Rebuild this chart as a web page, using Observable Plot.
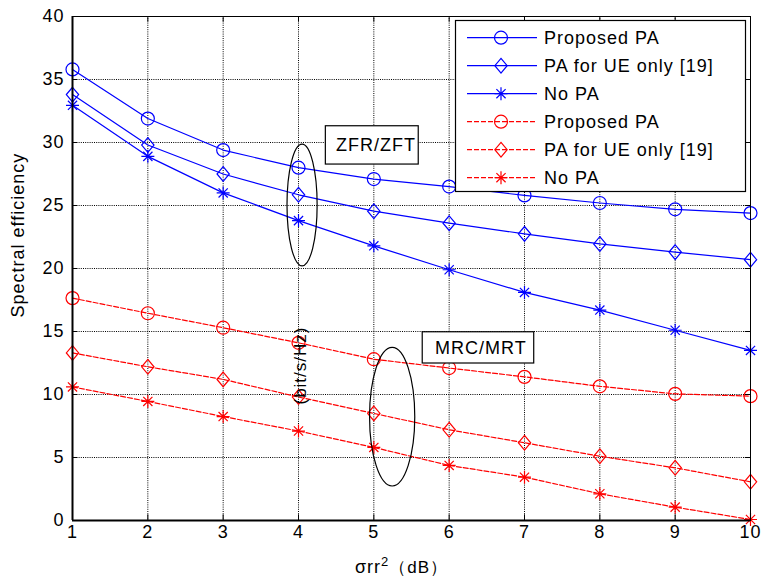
<!DOCTYPE html>
<html><head><meta charset="utf-8">
<script src="https://cdn.jsdelivr.net/npm/d3@7"></script>
<script src="https://cdn.jsdelivr.net/npm/@observablehq/plot@0.6"></script>
<style>body{margin:0;background:#fff} svg{display:block}</style>
</head><body><div id="chart"></div>
<script>
// ---- data ----
const xVals = [1, 2, 3, 4, 5, 6, 7, 8, 9, 10];
const yTicks = [0, 5, 10, 15, 20, 25, 30, 35, 40];
const zfProposed = [35.8, 31.9, 29.4, 28.0, 27.1, 26.5, 25.8, 25.2, 24.7, 24.4];
const zfUeOnly   = [33.8, 29.8, 27.5, 25.85, 24.55, 23.6, 22.75, 21.95, 21.3, 20.7];
const zfNoPa     = [32.95, 28.9, 26.0, 23.8, 21.8, 19.9, 18.1, 16.7, 15.1, 13.5];
const mrProposed = [17.65, 16.45, 15.3, 14.1, 12.8, 12.1, 11.4, 10.65, 10.05, 9.87];
const mrUeOnly   = [13.3, 12.2, 11.2, 9.8, 8.5, 7.2, 6.17, 5.1, 4.18, 3.07];
const mrNoPa     = [10.6, 9.45, 8.25, 7.1, 5.8, 4.37, 3.44, 2.12, 1.06, 0.08];
const legendLabels = ["Proposed PA", "PA for UE only [19]", "No PA", "Proposed PA", "PA for UE only [19]", "No PA"];
const groupLabels = [
  {label: "ZFR/ZFT", x1: 4.363, x2: 5.596, y1: 28.25, y2: 31.29, tx: 5.03, ty: 29.76},
  {label: "MRC/MRT", x1: 5.649, x2: 7.129, y1: 12.46, y2: 14.94, tx: 6.42, ty: 13.69}
];
const groupEllipses = [
  {cx: 4.054, cy: 25.0, rx: 0.2, ry: 4.83},
  {cx: 5.25, cy: 8.2, rx: 0.3, ry: 5.5}
];

// ---- symbols (MATLAB-like) ----
const circleSym = d3.symbolCircle;
const diamondSym = {draw(ctx, size) {
  const r = Math.sqrt(size / Math.PI), w = r * 0.88, h = r * 1.05;
  ctx.moveTo(0, -h); ctx.lineTo(w, 0); ctx.lineTo(0, h); ctx.lineTo(-w, 0); ctx.closePath();
}};
const starSym = {draw(ctx, size) {
  const r = Math.sqrt(size / Math.PI);
  for (const a of [0, 45, 90, 135]) {
    const t = a * Math.PI / 180, c = Math.cos(t) * r, s = Math.sin(t) * r;
    ctx.moveTo(c, s); ctx.lineTo(-c, -s);
  }
}};

const seriesDefs = [
  {vals: zfProposed, color: "#0000ff", dash: null, sym: circleSym, r: 6.5},
  {vals: zfUeOnly,   color: "#0000ff", dash: null, sym: diamondSym, r: 7},
  {vals: zfNoPa,     color: "#0000ff", dash: null, sym: starSym, r: 6.5},
  {vals: mrProposed, color: "#ff0000", dash: "5,2", sym: circleSym, r: 6.5},
  {vals: mrUeOnly,   color: "#ff0000", dash: "5,2", sym: diamondSym, r: 7},
  {vals: mrNoPa,     color: "#ff0000", dash: "5,2", sym: starSym, r: 6.5}
];

const seriesMarks = seriesDefs.flatMap((s, i) => {
  const rows = xVals.map((x, j) => ({x, y: s.vals[j], k: i}));
  return [
    Plot.line(rows, {x: "x", y: "y", stroke: s.color, strokeWidth: 1.2, strokeDasharray: s.dash}),
    Plot.dot(rows, {x: "x", y: "y", symbol: s.sym, r: s.r, stroke: s.color, fill: "none", strokeWidth: 1.2})
  ];
});

const FONT = "'Liberation Sans', Arial, sans-serif";
const plot = Plot.plot({
  width: 769, height: 581,
  marginLeft: 72, marginRight: 19, marginTop: 16, marginBottom: 61,
  style: {fontFamily: FONT, fontSize: "18px", letterSpacing: "1px", color: "black", background: "white"},
  x: {domain: [1, 10], ticks: xVals},
  y: {domain: [0, 40], ticks: yTicks},
  marks: [
    Plot.gridX(xVals, {stroke: "black", strokeOpacity: 1, strokeDasharray: "1,1.2"}),
    Plot.gridY(yTicks, {stroke: "black", strokeOpacity: 1, strokeDasharray: "1,1.2"}),
    Plot.ruleX(xVals, {y1: 0, y2: 0.45, stroke: "black"}),
    Plot.ruleX(xVals, {y1: 40, y2: 39.55, stroke: "black"}),
    Plot.ruleY(yTicks, {x1: 1, x2: 1.07, stroke: "black"}),
    Plot.ruleY(yTicks, {x1: 10, x2: 9.93, stroke: "black"}),
    Plot.axisX(xVals, {tickSize: 0, tickPadding: 5, label: null, fontSize: 18}),
    Plot.axisY(yTicks, {tickSize: 0, tickPadding: 8, label: null, fontSize: 18}),
    ...seriesMarks,
    Plot.rect(groupLabels, {x1: "x1", x2: "x2", y1: "y1", y2: "y2", fill: "white", stroke: "black", strokeWidth: 1.2}),
    Plot.text(groupLabels, {x: "tx", y: "ty", text: "label", fontSize: 18, fill: "black"}),
    Plot.text(["(bit/s/Hz)"], {x: [4.03], y: [12.3], text: d => d, rotate: -90, fontSize: 17, fill: "black"}),
    Plot.frame({stroke: "black", strokeWidth: 1}),
    Plot.ruleX([1], {stroke: "black", strokeWidth: 2}),
    Plot.ruleY([0], {stroke: "black", strokeWidth: 2}),
    Plot.text(["Spectral efficiency"], {frameAnchor: "left", dx: -54, dy: 49, rotate: -90, text: d => d, fontSize: 18, fill: "black"})
  ]
});

const sx = plot.scale("x"), sy = plot.scale("y");
const svg = d3.select(plot.tagName.toLowerCase() === "svg" ? plot : plot.querySelector("svg"));

// x axis label with superscript
const xl = svg.append("text").attr("x", 355).attr("y", 573).attr("text-anchor", "start")
  .attr("font-family", FONT).attr("font-size", 18).attr("fill", "black");
xl.append("tspan").text("σrr");
xl.append("tspan").attr("dy", -7).attr("font-size", 13).text("2");
xl.append("tspan").attr("dy", 7).attr("font-size", 17).text("（dB）");

// ellipses through the plot's scales
svg.append("g").selectAll("ellipse").data(groupEllipses).join("ellipse")
  .attr("cx", d => sx.apply(d.cx)).attr("cy", d => sy.apply(d.cy))
  .attr("rx", d => Math.abs(sx.apply(d.cx + d.rx) - sx.apply(d.cx)))
  .attr("ry", d => Math.abs(sy.apply(d.cy + d.ry) - sy.apply(d.cy)))
  .attr("fill", "none").attr("stroke", "black").attr("stroke-width", 1.2);

// legend box (matlab style, inside plot)
const lg = svg.append("g").attr("font-family", FONT).attr("font-size", 18).attr("text-anchor", "start");
lg.append("rect").attr("x", 455.5).attr("y", 20.5).attr("width", 290).attr("height", 171)
  .attr("fill", "white").attr("stroke", "black").attr("stroke-width", 1.2);
seriesDefs.forEach((s, i) => {
  const y = 37.7 + i * 28;
  lg.append("line").attr("x1", 467).attr("x2", 537).attr("y1", y).attr("y2", y)
    .attr("stroke", s.color).attr("stroke-width", 1.2).attr("stroke-dasharray", s.dash);
  lg.append("path").attr("transform", `translate(501,${y})`)
    .attr("d", d3.symbol(s.sym, s.r * s.r * Math.PI)())
    .attr("fill", "none").attr("stroke", s.color).attr("stroke-width", 1.2);
  lg.append("text").attr("x", 544).attr("y", y).attr("dy", "0.35em").attr("letter-spacing", 1)
    .attr("fill", "black").text(legendLabels[i]);
});

document.getElementById("chart").appendChild(plot);
</script></body></html>
